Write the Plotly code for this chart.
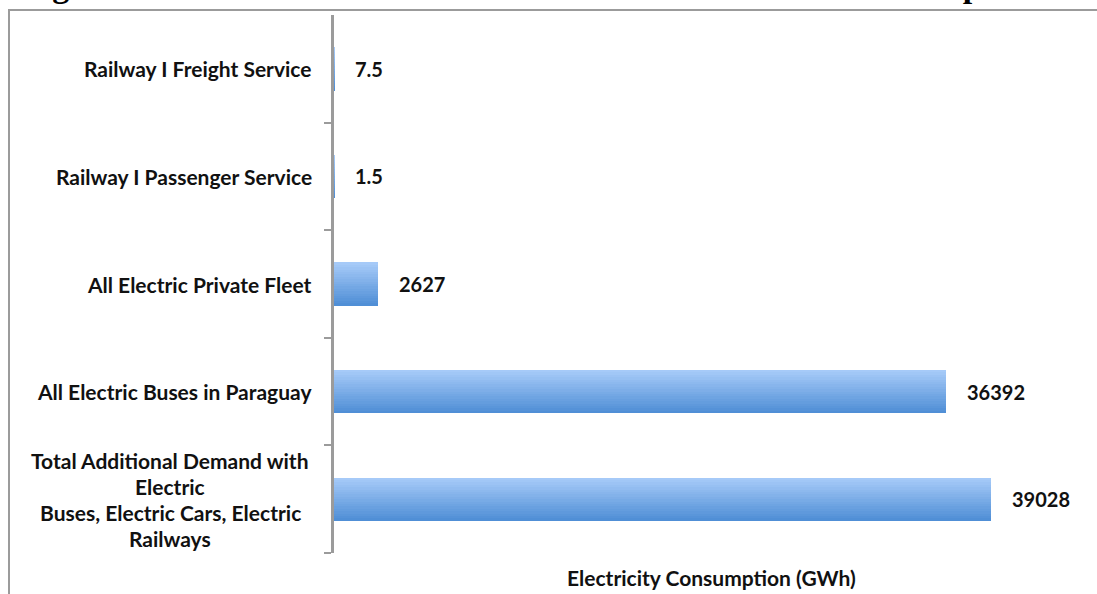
import plotly.graph_objects as go

# ---- data ----
categories = [
    "Railway I Freight Service",
    "Railway I Passenger Service",
    "All Electric Private Fleet",
    "All Electric Buses in Paraguay",
    "Total Additional Demand with\nElectric\nBuses, Electric Cars, Electric\nRailways",
]
values = [7.5, 1.5, 2627, 36392, 39028]
value_labels = ["7.5", "1.5", "2627", "36392", "39028"]
x_title = "Electricity Consumption (GWh)"
chart_title = "Figura 8. Consumo de Electricidad Adicional del Sector de Transporte"

# ---- layout constants ----
W, H = 1097, 594
L, R, T, B = 334, 6, 15, 41
PW, PH = W - L - R, H - T - B
GRAY = "#9b9b9b"
FONT = "Lato"
TXT = 21
NUM = 20
TOP_COLOR = (166, 202, 248)
BOT_COLOR = (80, 143, 214)


def px_x(px):
    return (px - L) / PW


def px_y(py):
    return 1 - (py - T) / PH


cat_ids = list(range(len(categories)))

fig = go.Figure()

# gradient bars: stacked thin slices of the same bars
N = 18
BAR_W = 0.40
for i in range(N):
    f = i / (N - 1)
    c = tuple(round(TOP_COLOR[k] + (BOT_COLOR[k] - TOP_COLOR[k]) * f) for k in range(3))
    fig.add_trace(go.Bar(
        x=values, y=cat_ids, orientation="h",
        width=BAR_W / N + 0.002, offset=-BAR_W / 2 + i * BAR_W / N,
        marker=dict(color="rgb(%d,%d,%d)" % c, line=dict(width=0)),
        hoverinfo="skip", showlegend=False,
    ))

annotations = []
# value labels
for cid, v, lab in zip(cat_ids, values, value_labels):
    annotations.append(dict(
        x=v, y=cid, xref="x", yref="y", text=lab, showarrow=False,
        xanchor="left", yanchor="middle", xshift=19,
        font=dict(family=FONT, size=NUM, color="#111", weight="bold"),
    ))

# category labels
LINE_H = 26
for cid, cat in zip(cat_ids, categories):
    lines = cat.split("\n")
    if len(lines) == 1:
        annotations.append(dict(
            x=0, y=cid, xref="x", yref="y", text=cat, showarrow=False,
            xanchor="right", yanchor="middle", xshift=-20,
            font=dict(family=FONT, size=TXT, color="#111", weight="bold"),
        ))
    else:
        n = len(lines)
        for j, ln in enumerate(lines):
            annotations.append(dict(
                x=px_x(170), y=cid, xref="paper", yref="y", text=ln, showarrow=False,
                xanchor="center", yanchor="middle",
                yshift=-((j - (n - 1) / 2) * LINE_H),
                font=dict(family=FONT, size=TXT, color="#111", weight="bold"),
            ))

# x-axis title
annotations.append(dict(
    x=px_x(711), y=0, xref="paper", yref="paper", text=x_title, showarrow=False,
    xanchor="center", yanchor="middle", yshift=-24,
    font=dict(family=FONT, size=TXT, color="#111", weight="bold"),
))

# clipped chart title at the very top
annotations.append(dict(
    x=px_x(20), y=1, xref="paper", yref="paper", text=chart_title, showarrow=False,
    xanchor="left", yanchor="bottom", yshift=9,
    font=dict(family="Liberation Serif", size=34, color="#000", weight="bold"),
))

shapes = [
    dict(type="line", xref="paper", yref="paper", x0=px_x(9), x1=px_x(9),
         y0=px_y(10), y1=px_y(600), line=dict(color=GRAY, width=2)),
    dict(type="line", xref="paper", yref="paper", x0=px_x(8), x1=px_x(1100),
         y0=px_y(10), y1=px_y(10), line=dict(color=GRAY, width=2)),
]

fig.update_layout(
    width=W, height=H,
    margin=dict(l=L, r=R, t=T, b=B),
    paper_bgcolor="white", plot_bgcolor="white",
    barmode="overlay", bargap=0,
    annotations=annotations, shapes=shapes,
    xaxis=dict(range=[0, 45000], showgrid=False, zeroline=False, showline=False,
               showticklabels=False, ticks=""),
    yaxis=dict(range=[len(categories) - 0.5, -0.5], showgrid=False, zeroline=False,
               showline=True, linecolor=GRAY, linewidth=3,
               tickmode="array", tickvals=[k + 0.5 for k in cat_ids],
               ticks="outside", ticklen=7, tickcolor=GRAY, tickwidth=1.5,
               showticklabels=False),
)

fig.write_html("out.html", config={"displayModeBar": False},
               post_script="document.body.style.margin='0';")
